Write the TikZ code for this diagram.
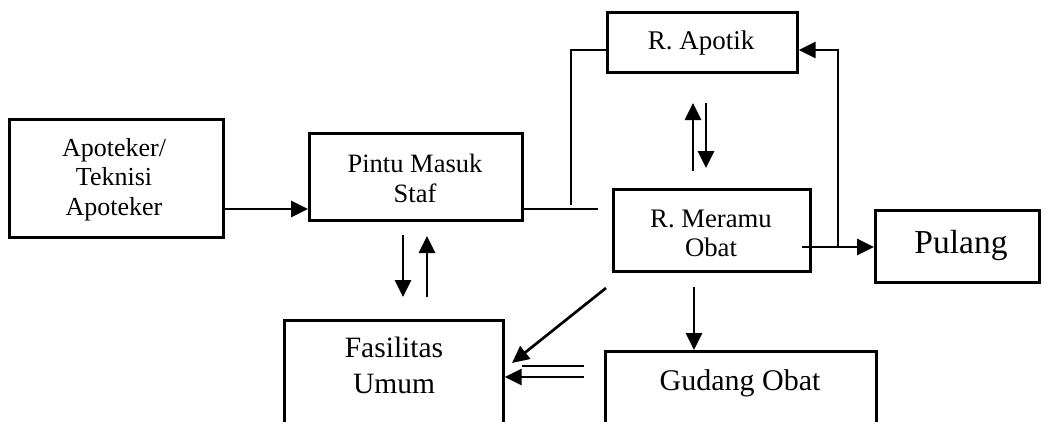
\documentclass[tikz,border=0pt]{standalone}
\usepackage{fontspec}
\setmainfont{Liberation Serif}
\usetikzlibrary{arrows.meta}
\tikzset{
  box/.style={draw, line width=2.7pt, inner sep=0pt, anchor=north west},
  lbl/.style={align=center, inner sep=0pt},
  flow/.style={line width=2.7pt, -{Triangle[length=17pt,width=16pt]}},
  wire/.style={line width=2.7pt},
}
\newcommand{\fs}[2]{\fontsize{#1}{#2}\selectfont}
\begin{document}
\begin{tikzpicture}[x=1pt,y=-1pt]
\useasboundingbox (0,0) rectangle (1046,421);
\clip (0,0) rectangle (1046,421);

% boxes
\node[box, minimum width=214pt, minimum height=118pt] (apo) at (8,118) {};
\node[box, minimum width=213pt, minimum height=87pt] (pintu) at (308,132) {};
\node[box, minimum width=190pt, minimum height=60pt] (apotik) at (606,11) {};
\node[box, minimum width=197pt, minimum height=82pt] (meramu) at (612,188) {};
\node[box, minimum width=164pt, minimum height=72pt] (pulang) at (874,209) {};
\node[box, minimum width=219pt, minimum height=140pt] (fas) at (283,319) {};
\node[box, minimum width=271pt, minimum height=110pt] (gudang) at (604,350) {};

% labels
\node[lbl, font=\fs{26}{29.5}] (apoT) at (114,179.5) {Apoteker/\\Teknisi\\Apoteker};
\node[lbl, font=\fs{26.5}{30}] (pintuT) at (415,178) {Pintu Masuk\\Staf};
\node[lbl, font=\fs{27}{30}] (apotikT) at (701,43) {R. Apotik};
\node[lbl, font=\fs{26.7}{29}] (meramuT) at (711,233.5) {R. Meramu\\Obat};
\node[lbl, font=\fs{33.5}{36}] (pulangT) at (961,245) {Pulang};
\node[lbl, font=\fs{29.5}{36}] (fasT) at (394,365) {Fasilitas\\Umum};
\node[lbl, font=\fs{30}{36}] (gudangT) at (740,383) {Gudang Obat};

% loose ends of the connectors
\coordinate (pOut) at (598,209);
\coordinate (jB) at (571,50);
\coordinate (mOut) at (802,247);
\coordinate (jC) at (838,247);
\coordinate (jD) at (838,50);
\coordinate (upS) at (693,171);
\coordinate (upE) at (693,103);
\coordinate (dnS) at (706,103);
\coordinate (dnE) at (706,168);
\coordinate (pfD1) at (403,235);
\coordinate (pfD2) at (403,297);
\coordinate (pfU1) at (427,297);
\coordinate (pfU2) at (427,236);
\coordinate (diagS) at (606,288);
\coordinate (diagE) at (512,363);
\coordinate (mDown) at (694,287);
\coordinate (gA) at (584,366);
\coordinate (gAe) at (522,366);
\coordinate (gB) at (584,377);

% connectors
\draw[flow] (apo.east |- 0,209) -- (pintu.west |- 0,209);
\draw[wire] (pintu.east |- 0,209) -- (pOut);
\draw[wire] (571,205) -- (jB) -- (apotik.west |- jB);
\draw[flow] (upS) -- (upE);
\draw[flow] (dnS) -- (dnE);
\draw[flow] (mOut) -- (pulang.west |- mOut);
\draw[flow] (jC) -- (jD) -- (apotik.east |- jD);
\draw[flow] (pfD1) -- (pfD2);
\draw[flow] (pfU1) -- (pfU2);
\draw[flow] (diagS) -- (diagE);
\draw[flow] (mDown) -- (mDown |- gudang.north);
\draw[wire] (gA) -- (gAe);
\draw[flow] (gB) -- (fas.east |- gB);
\end{tikzpicture}
\end{document}
